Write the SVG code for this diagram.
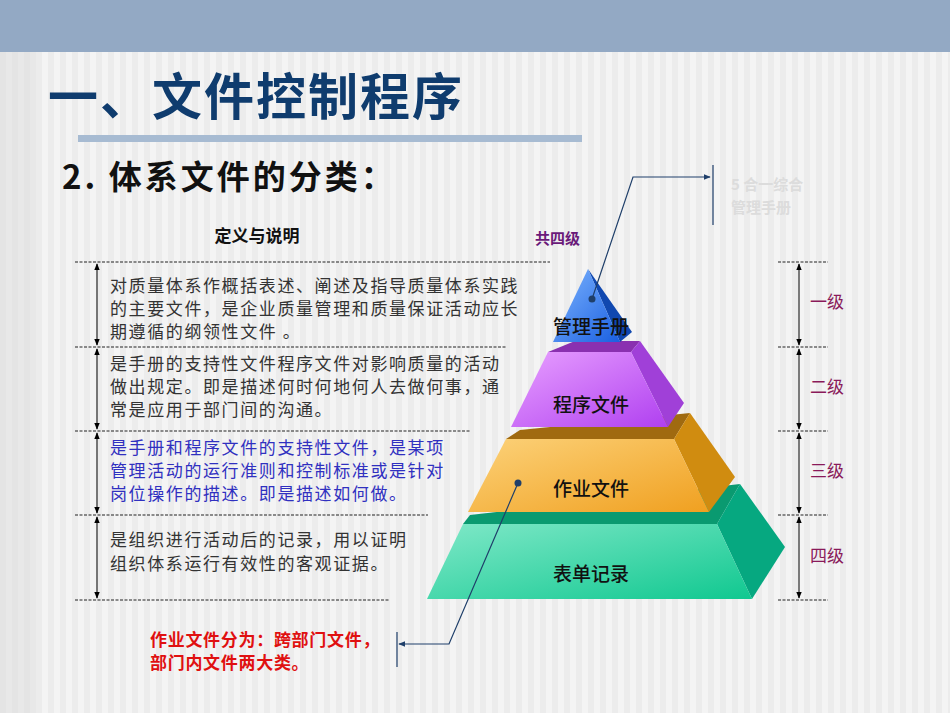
<svg xmlns="http://www.w3.org/2000/svg" width="950" height="713" viewBox="0 0 950 713">
<defs>
<pattern id="st" width="12" height="10" patternUnits="userSpaceOnUse"><rect width="12" height="10" fill="#f4f4f4"/><rect width="6" height="10" fill="#ececec"/></pattern>
<marker id="ar" viewBox="0 0 10 10" refX="9" refY="5" markerWidth="6" markerHeight="6" orient="auto"><path d="M0,1 L10,5 L0,9 z" fill="#1f3f6a"/></marker>
<marker id="ak" viewBox="0 0 10 10" refX="9" refY="5" markerWidth="7" markerHeight="7" orient="auto-start-reverse"><path d="M0,1 L10,5 L0,9 z" fill="#000"/></marker>
<linearGradient id="g1" x1="0" y1="0" x2="1" y2="1"><stop offset="0" stop-color="#7fb6ff"/><stop offset="1" stop-color="#1a5fe0"/></linearGradient>
<linearGradient id="g2" x1="0" y1="0" x2="1" y2="1"><stop offset="0" stop-color="#e8a0ff"/><stop offset="1" stop-color="#b040f0"/></linearGradient>
<linearGradient id="g3" x1="0" y1="0" x2="1" y2="1"><stop offset="0" stop-color="#fcd27a"/><stop offset="1" stop-color="#f0a020"/></linearGradient>
<linearGradient id="g4" x1="0" y1="0" x2="1" y2="1"><stop offset="0" stop-color="#80e8c8"/><stop offset="1" stop-color="#10c890"/></linearGradient>
</defs>
<style>
.t{font-family:"Noto Sans CJK SC","Liberation Sans",sans-serif}
.body{font-size:17px;fill:#333;letter-spacing:1.6px}
.lv{font-size:17px;fill:#8a1a5a}
.pl{font-size:19px;fill:#111;text-anchor:middle;font-weight:500}
.dash{stroke:#222;stroke-width:1.2;stroke-dasharray:3,1.5}
.v{stroke:#000;stroke-width:1;marker-start:url(#ak);marker-end:url(#ak)}
.cl{stroke:#1f3f6a;stroke-width:1.2;fill:none}
</style>
<rect width="950" height="713" fill="url(#st)"/>
<rect width="36" height="713" fill="#e0e0e0" opacity="0.6"/>
<rect width="950" height="52" fill="#93a9c4"/>
<text class="t" x="48" y="115" font-size="50" font-weight="bold" fill="#0f3c6e" letter-spacing="2">一、文件控制程序</text>
<rect x="78" y="135" width="504" height="7" fill="#a7bbd2"/>
<text class="t" x="62" y="189" font-size="33" font-weight="bold" fill="#111" letter-spacing="3">2. 体系文件的分类：</text>
<text class="t" x="257" y="242" font-size="17" font-weight="bold" fill="#111" text-anchor="middle">定义与说明</text>
<text class="t" x="535" y="244" font-size="15" font-weight="bold" fill="#6a1a7a">共四级</text>
<text class="t" x="731" y="190" font-size="15" font-weight="bold" fill="#dcdcdc">5 合一综合</text>
<text class="t" x="731" y="213" font-size="15" font-weight="bold" fill="#dcdcdc">管理手册</text>
<g id="leftbox">
<line class="dash" x1="75" y1="262" x2="550" y2="262"/>
<line class="dash" x1="75" y1="347" x2="506" y2="347"/>
<line class="dash" x1="75" y1="431" x2="470" y2="431"/>
<line class="dash" x1="75" y1="515" x2="428" y2="515"/>
<line class="dash" x1="75" y1="600" x2="390" y2="600"/>
<line class="v" x1="97" y1="264" x2="97" y2="345"/>
<line class="v" x1="97" y1="349" x2="97" y2="429"/>
<line class="v" x1="97" y1="433" x2="97" y2="513"/>
<line class="v" x1="97" y1="517" x2="97" y2="598"/>
<text class="t body" x="110" y="292">对质量体系作概括表述、阐述及指导质量体系实践</text>
<text class="t body" x="110" y="315">的主要文件，是企业质量管理和质量保证活动应长</text>
<text class="t body" x="110" y="338">期遵循的纲领性文件 。</text>
<text class="t body" x="110" y="370">是手册的支持性文件程序文件对影响质量的活动</text>
<text class="t body" x="110" y="393">做出规定。即是描述何时何地何人去做何事，通</text>
<text class="t body" x="110" y="416">常是应用于部门间的沟通。</text>
<text class="t body" x="110" y="454" style="fill:#3030c0">是手册和程序文件的支持性文件，是某项</text>
<text class="t body" x="110" y="477" style="fill:#3030c0">管理活动的运行准则和控制标准或是针对</text>
<text class="t body" x="110" y="500" style="fill:#3030c0">岗位操作的描述。即是描述如何做。</text>
<text class="t body" x="110" y="546">是组织进行活动后的记录，用以证明</text>
<text class="t body" x="110" y="570">组织体系运行有效性的客观证据。</text>
</g>
<g id="scale">
<line class="dash" x1="778" y1="262" x2="828" y2="262"/>
<line class="dash" x1="778" y1="347" x2="828" y2="347"/>
<line class="dash" x1="778" y1="431" x2="828" y2="431"/>
<line class="dash" x1="778" y1="515" x2="828" y2="515"/>
<line class="dash" x1="778" y1="600" x2="828" y2="600"/>
<line class="v" x1="799" y1="264" x2="799" y2="345"/>
<line class="v" x1="799" y1="349" x2="799" y2="429"/>
<line class="v" x1="799" y1="433" x2="799" y2="513"/>
<line class="v" x1="799" y1="517" x2="799" y2="598"/>
<text class="t lv" x="810" y="308">一级</text>
<text class="t lv" x="810" y="393">二级</text>
<text class="t lv" x="810" y="477">三级</text>
<text class="t lv" x="810" y="562">四级</text>
</g>
<g id="level4">
<polygon points="470,515 740,484 717,524 463,524" fill="#0a9a70"/>
<polygon points="717,524 740,484 785,547 752,599" fill="#06a880"/>
<polygon points="463,524 717,524 752,599 427,599" fill="url(#g4)"/>
<text class="t pl" x="591" y="581">表单记录</text>
</g>
<g id="level3">
<polygon points="520,430 690,413 674,439 506,439" fill="#a06a10"/>
<polygon points="674,439 690,413 735,477 709,512" fill="#d08c10"/>
<polygon points="506,439 674,439 709,512 468,512" fill="url(#g3)"/>
<text class="t pl" x="591" y="496">作业文件</text>
</g>
<g id="level2">
<polygon points="575,341 640,341 631,352 548,352" fill="#8a30b0"/>
<polygon points="631,352 640,341 684,403 668,427" fill="#a040d8"/>
<polygon points="548,352 631,352 668,427 511,427" fill="url(#g2)"/>
<text class="t pl" x="591" y="412">程序文件</text>
</g>
<g id="level1">
<polygon points="588,269 632,332 620,342" fill="#1048b0"/>
<polygon points="588,269 620,342 553,342" fill="url(#g1)"/>
<text class="t pl" x="591" y="334">管理手册</text>
</g>
<g id="connectors">
<circle cx="592" cy="299" r="3.5" fill="#1f3f6a"/>
<polyline class="cl" points="592,299 633,177 710,177" marker-end="url(#ar)"/>
<line class="cl" x1="713" y1="165" x2="713" y2="225"/>
<circle cx="518" cy="483" r="3.5" fill="#1f3f6a"/>
<polyline class="cl" points="518,483 449,644 399,644" marker-end="url(#ar)"/>
<line class="cl" x1="397" y1="632" x2="397" y2="667"/>
</g>
<text class="t" x="150" y="646" font-size="17" font-weight="bold" fill="#e01010" letter-spacing="0.7">作业文件分为：跨部门文件，</text>
<text class="t" x="150" y="669" font-size="17" font-weight="bold" fill="#e01010" letter-spacing="0.7">部门内文件两大类。</text>
</svg>
